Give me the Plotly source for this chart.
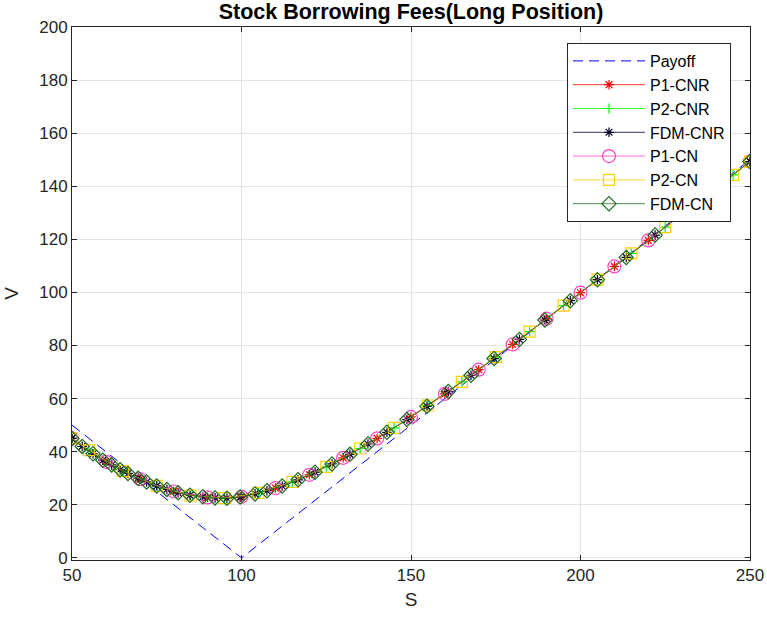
import plotly.graph_objects as go

# ---------------- data ----------------
S_payoff = [50, 100, 250]
V_payoff = [50, 0, 150]

S_p1 = [50, 60, 70, 80, 90, 100, 110, 120, 130, 140, 150, 160, 170, 180, 190,
        200, 210, 220, 230, 240, 250]
V_p1 = [45.0, 36.2, 29.7, 25.0, 22.8, 23.0, 26.3, 31.3, 37.7, 45.0, 53.1, 61.8,
        70.9, 80.4, 90.1, 99.9, 109.8, 119.6, 129.5, 139.4, 149.3]

S_p2 = [50, 55, 65, 75, 85, 95, 105, 115, 125, 135, 145, 155, 165, 175, 185,
        195, 205, 215, 225, 235, 245, 250]
V_p2 = [45.0, 40.6, 32.7, 27.1, 23.5, 22.5, 24.5, 28.6, 34.3, 41.2, 49.0, 57.4,
        66.3, 75.6, 85.2, 95.0, 104.8, 114.7, 124.6, 134.5, 144.3, 149.3]

S_fdm = [50, 53, 56.2, 59.1, 61.7, 64.2, 66.5, 69.5, 72, 75, 78, 81.3, 84.8,
         88.6, 92.2, 95.7, 99.6, 104, 107.5, 112, 116.7, 121.7, 126.7, 132,
         137.3, 142.9, 148.8, 154.7, 161, 167.7, 174.5, 182, 189.5, 197, 205,
         213.5, 222, 231, 240, 250]
V_fdm = [45.0, 42.0, 39.2, 36.8, 35.0, 33.2, 31.8, 30.0, 28.6, 27.1, 25.8, 24.5,
         23.6, 23.0, 22.6, 22.5, 22.9, 24.1, 25.3, 27.1, 29.4, 32.3, 35.4, 39.0,
         42.9, 47.3, 52.1, 57.1, 62.7, 68.8, 75.1, 82.3, 89.6, 96.9, 104.8,
         113.2, 121.6, 130.5, 139.4, 149.3]

x_ticks = [50, 100, 150, 200, 250]
y_ticks = [0, 20, 40, 60, 80, 100, 120, 140, 160, 180, 200]

# ---------------- figure ----------------
fig = go.Figure()

fig.add_trace(go.Scatter(x=S_payoff, y=V_payoff, name="Payoff", mode="lines",
                         line=dict(color="#0000ff", width=1, dash="10px,6px")))

def add(name, xs, ys, color, symbol, size, lw=1.2):
    fig.add_trace(go.Scatter(
        x=xs, y=ys, name=name, mode="lines+markers",
        line=dict(color=color, width=0.8),
        marker=dict(symbol=symbol, size=size, color=color,
                    line=dict(color=color, width=lw))))

add("P1-CNR", S_p1, V_p1, "#ff0000", "asterisk-open", 8)
add("P2-CNR", S_p2, V_p2, "#00ff00", "cross-thin-open", 7)
add("FDM-CNR", S_fdm, V_fdm, "#000028", "asterisk-open", 8)
add("P1-CN", S_p1, V_p1, "#ff44c8", "circle-open", 13)
add("P2-CN", S_p2, V_p2, "#ffd000", "square-open", 11)
add("FDM-CN", S_fdm, V_fdm, "#1e6b1e", "diamond-open", 11)

axis_common = dict(showline=True, linecolor="#262626", linewidth=1, mirror="ticks",
                   ticks="inside", ticklen=5, tickcolor="#262626", automargin=False,
                   showgrid=True, gridcolor="#e3e3e3", gridwidth=1, zeroline=False,
                   tickfont=dict(family="Liberation Sans", size=17, color="#262626"))

fig.update_xaxes(range=[50, 250], tickvals=x_ticks, ticktext=[str(v) for v in x_ticks],
                 title=dict(text="S", font=dict(family="Liberation Sans", size=19, color="#262626"),
                            standoff=8),
                 **axis_common)
fig.update_yaxes(range=[-0.8, 200], tickvals=y_ticks, ticktext=[str(v) for v in y_ticks],
                 title=dict(text="V", font=dict(family="Liberation Sans", size=19, color="#262626"),
                            standoff=15),
                 **axis_common)

fig.update_layout(
    width=767, height=618,
    paper_bgcolor="white", plot_bgcolor="white",
    margin=dict(l=72, r=17, t=27, b=58),
    title=dict(text="<b>Stock Borrowing Fees(Long Position)</b>",
               font=dict(family="Liberation Sans", size=21.5, color="#000000"),
               x=0.5, xanchor="center", xref="paper", y=0.981, yanchor="middle"),
    legend=dict(x=0.972, y=0.97, xanchor="right", yanchor="top",
                bgcolor="white", bordercolor="#262626", borderwidth=1,
                font=dict(family="Liberation Sans", size=16, color="#000000"),
                itemwidth=72, tracegroupgap=0),
    showlegend=True,
)

fig.write_html("out.html", config={"displayModeBar": False},
               post_script="document.body.style.margin='0px';")
